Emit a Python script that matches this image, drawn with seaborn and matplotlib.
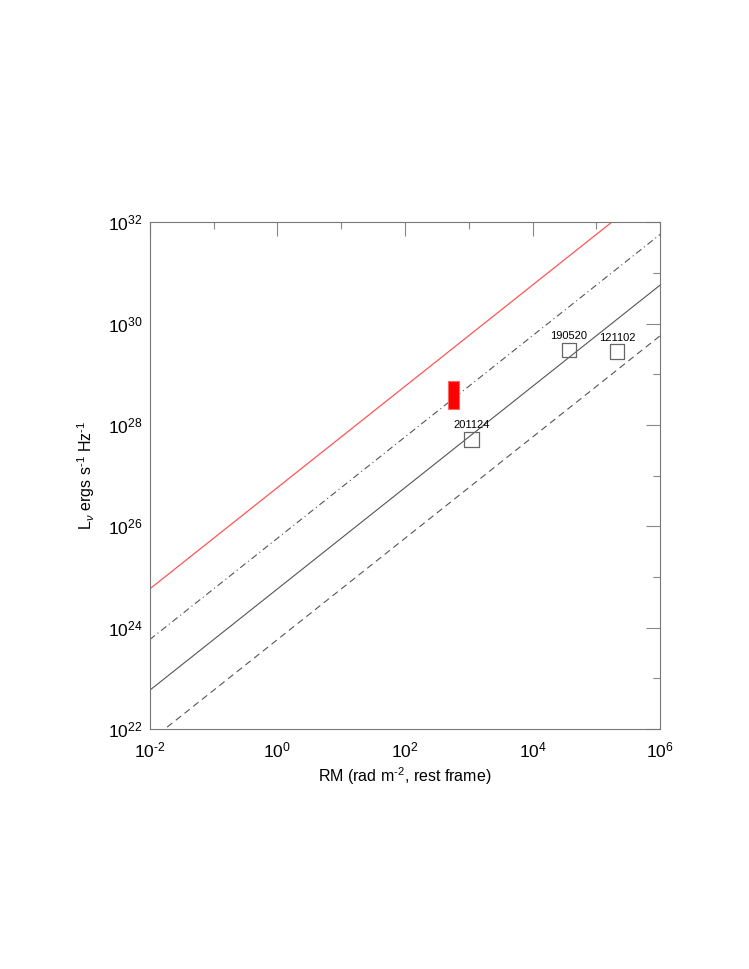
import matplotlib
matplotlib.use("Agg")
from matplotlib import pyplot as plt
from matplotlib.ticker import FixedLocator, NullFormatter
import seaborn as sns
import pandas as pd

# line end points (RM, L)
rm_ends = [1e-2, 1e6]
L_dashed = [5.8e21, 5.8e29]
L_solid = [5.8e22, 5.8e30]
L_dashdot = [5.8e23, 5.8e31]
L_red = [5.8e24, 5.8e32]

# FRB points
frb_names = ["201124", "190520", "121102"]
frb_rm = [1100, 3.7e4, 2.1e5]
frb_L = [5.2e27, 3.0e29, 2.8e29]

# red box (RM range, L range)
box_rm = [470, 710]
box_L = [2.1e28, 7.4e28]

x_ticks = [1e-2, 1e0, 1e2, 1e4, 1e6]
x_ticklabels = ["$10^{\\text{-}2}$", "$10^{0}$", "$10^{2}$", "$10^{4}$", "$10^{6}$"]
y_ticks = [1e22, 1e24, 1e26, 1e28, 1e30, 1e32]
y_ticklabels = ["$10^{22}$", "$10^{24}$", "$10^{26}$", "$10^{28}$", "$10^{30}$", "$10^{32}$"]

sns.set_style("white")
plt.rcParams["font.family"] = ["Liberation Sans", "DejaVu Sans"]
plt.rcParams["mathtext.fontset"] = "custom"
plt.rcParams["mathtext.rm"] = "Liberation Sans"
plt.rcParams["mathtext.it"] = "Liberation Sans:italic"

fig = plt.figure(figsize=(7.49, 9.69), dpi=100)
ax = fig.add_axes([0.1999, 0.2477, 0.6817, 0.5229])
ax.set_xscale("log")
ax.set_yscale("log")

gray = "#555555"
sns.lineplot(x=rm_ends, y=L_dashed, ax=ax, color=gray, lw=0.8, linestyle=(0, (6, 4)))
sns.lineplot(x=rm_ends, y=L_solid, ax=ax, color=gray, lw=0.8)
sns.lineplot(x=rm_ends, y=L_dashdot, ax=ax, color=gray, lw=0.8, linestyle=(0, (6, 3, 1, 3)))
sns.lineplot(x=rm_ends, y=L_red, ax=ax, color="#ff5555", lw=0.9)

ax.fill_between(box_rm, box_L[0], box_L[1], color="red", edgecolor="#ff6666", lw=0.8, zorder=3)

df = pd.DataFrame({"RM": frb_rm, "L": frb_L, "name": frb_names})
sns.scatterplot(data=df, x="RM", y="L", ax=ax, marker="s", s=110,
                facecolor="none", edgecolor="#666666", linewidth=0.9, zorder=4)
for name, x, y in zip(frb_names, frb_rm, frb_L):
    ax.annotate(name, (x, y), xytext=(0, 6.5), textcoords="offset points",
                ha="center", va="bottom", fontsize=8, color="black")

ax.set_xlim(1e-2, 1e6)
ax.set_ylim(1e22, 1e32)

ax.xaxis.set_major_locator(FixedLocator(x_ticks))
ax.xaxis.set_minor_locator(FixedLocator([1e-1, 1e1, 1e3, 1e5]))
ax.yaxis.set_major_locator(FixedLocator(y_ticks))
ax.yaxis.set_minor_locator(FixedLocator([1e23, 1e25, 1e27, 1e29, 1e31]))
ax.xaxis.set_minor_formatter(NullFormatter())
ax.yaxis.set_minor_formatter(NullFormatter())
ax.set_xticklabels(x_ticklabels)
ax.set_yticklabels(y_ticklabels)

ax.tick_params(which="both", direction="in", top=True, right=True, color="#888888",
               width=0.8, labelsize=12.5, labelcolor="black")
ax.tick_params(axis="y", pad=5)
ax.tick_params(axis="x", pad=8)
ax.tick_params(which="major", length=10)
ax.tick_params(which="minor", length=5)
for sp in ax.spines.values():
    sp.set_color("#777777")
    sp.set_linewidth(0.8)

ax.set_xlabel("RM (rad m$^{\\text{-}2}$, rest frame)", fontsize=11.5, color="black")
ax.set_ylabel("L$_\\nu$ ergs s$^{\\text{-}1}$ Hz$^{\\text{-}1}$", fontsize=11.5, color="black")
ax.yaxis.set_label_coords(-0.103, 0.5)

fig.savefig("out.png", dpi=100)
